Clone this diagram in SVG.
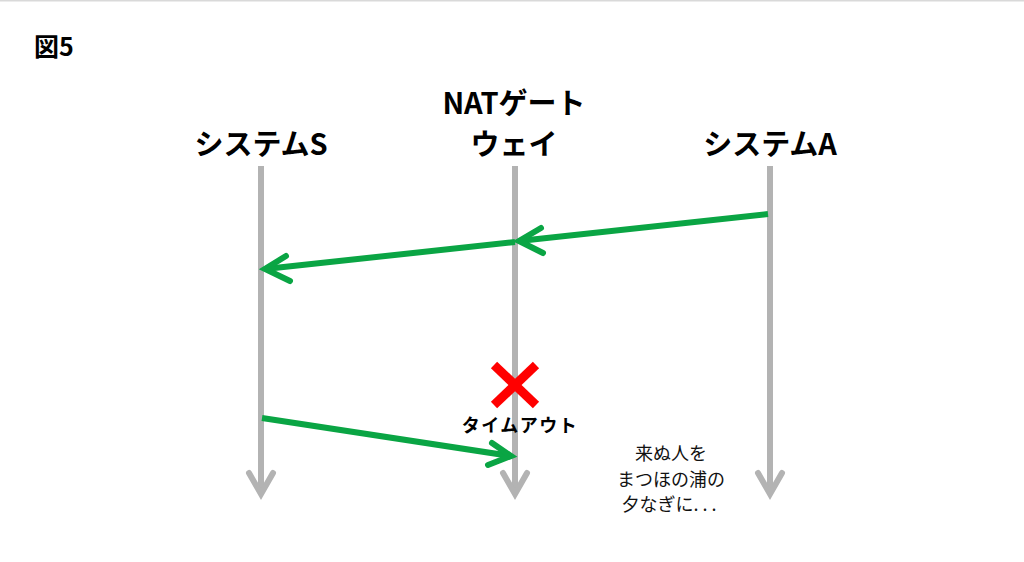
<svg xmlns="http://www.w3.org/2000/svg" width="1024" height="562" viewBox="0 0 1024 562">
<style>
.title{font-family:"Noto Sans CJK JP","Noto Sans",sans-serif;font-weight:bold;font-size:29px;fill:#000;text-anchor:middle}
.life{stroke:#b3b3b3;stroke-width:6;fill:none;stroke-linecap:butt}
.lhead{stroke:#b3b3b3;stroke-width:6;fill:none;stroke-linecap:round;stroke-linejoin:miter}
.msg{stroke:#0aa544;stroke-width:6;fill:none;stroke-linecap:butt}
.mhead{stroke:#0aa544;stroke-width:6;fill:none;stroke-linecap:round;stroke-linejoin:miter}
.poem{font-family:"Noto Sans CJK JP",sans-serif;font-size:18px;fill:#111;text-anchor:middle}
</style>
<rect width="1024" height="562" fill="#fff"/>
<line x1="0" y1="0.5" x2="1024" y2="0.5" stroke="#d9d9d9" stroke-width="2"/>
<text x="34" y="56" font-family="Noto Sans CJK JP,sans-serif" font-weight="bold" font-size="25">図5</text>
<g id="systemS">
<text class="title" x="261" y="155">システムS</text>
<line class="life" x1="261" y1="166" x2="261" y2="494"/>
<polyline class="lhead" points="249,473 261,494 273,473"/>
</g>
<g id="nat">
<text class="title" x="514" y="114">NATゲート</text>
<text class="title" x="514" y="155">ウェイ</text>
<line class="life" x1="515" y1="166" x2="515" y2="494"/>
<polyline class="lhead" points="503,473 515,494 527,473"/>
</g>
<g id="systemA">
<text class="title" x="770" y="155">システムA</text>
<line class="life" x1="770" y1="166" x2="770" y2="494"/>
<polyline class="lhead" points="758,473 770,494 782,473"/>
</g>
<g id="connectors">
<line class="msg" x1="768" y1="214" x2="519" y2="241"/>
<polyline class="mhead" points="541,228 519,241 543,253"/>
<line class="msg" x1="515" y1="242" x2="265" y2="269"/>
<polyline class="mhead" points="286,256 265,269 290,281"/>
<line class="msg" x1="262" y1="418" x2="511" y2="456"/>
<polyline class="mhead" points="492,443 511,456 488,465"/>
</g>
<g id="timeout">
<line x1="494" y1="365" x2="536" y2="405" stroke="#ff0000" stroke-width="9"/>
<line x1="536" y1="365" x2="494" y2="405" stroke="#ff0000" stroke-width="9"/>
<text x="520" y="432" font-family="Noto Sans CJK JP,sans-serif" font-weight="bold" font-size="18" text-anchor="middle" letter-spacing="1.5">タイムアウト</text>
</g>
<g id="poem">
<text class="poem" x="671" y="460">来ぬ人を</text>
<text class="poem" x="671" y="486">まつほの浦の</text>
<text class="poem" x="669" y="511">夕なぎに. . .</text>
</g>
</svg>
